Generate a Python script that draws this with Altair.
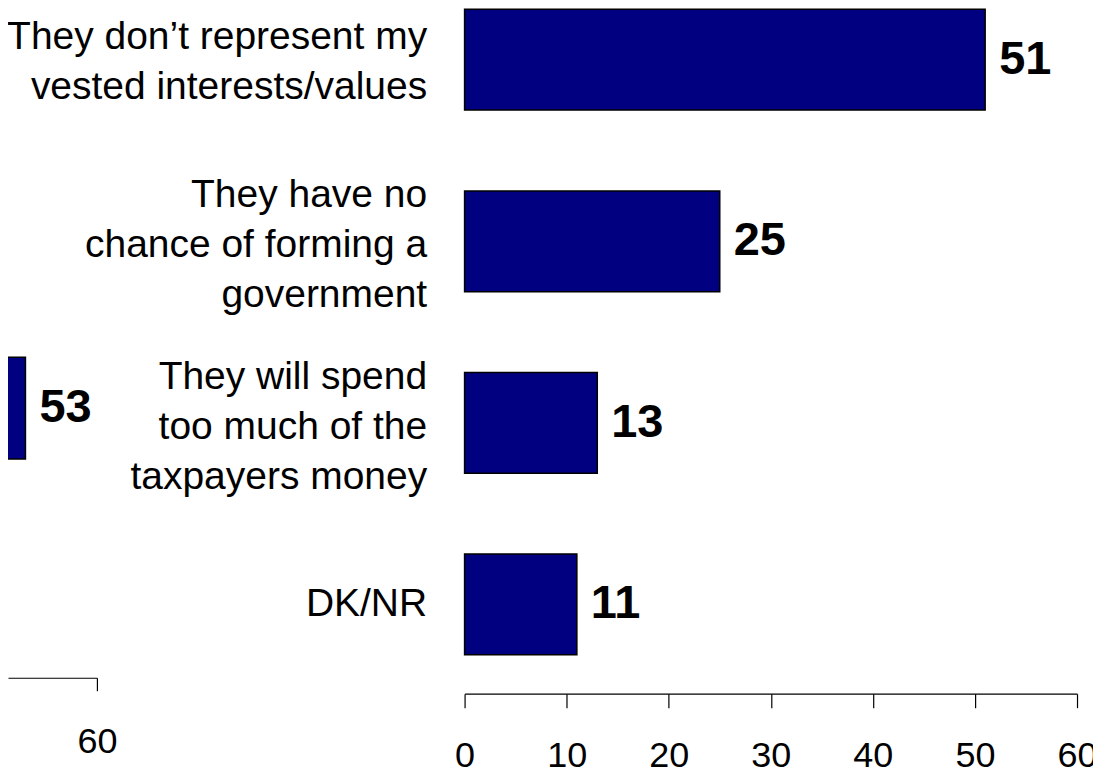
import altair as alt
import pandas as pd

# ---- data ----
right_labels = [
    "They don’t represent my|vested interests/values",
    "They have no|chance of forming a|government",
    "They will spend|too much of the|taxpayers money",
    "DK/NR",
]
right_values = [51, 25, 13, 11]
left_labels = ["(left panel)"]
left_values = [53]
tick_values = [0, 10, 20, 30, 40, 50, 60]

NAVY = "#000080"
LABEL_FONT = "Liberation Sans"
NUM_FONT = "Liberation Sans"
LINE_H = 50

right_df = pd.DataFrame({"cat": right_labels, "val": right_values})
left_df = pd.DataFrame({"cat": left_labels, "val": left_values})

# ---- right panel ----
r_x = alt.X(
    "val:Q",
    scale=alt.Scale(domain=[0, 60], nice=False, zero=True),
    axis=alt.Axis(
        values=tick_values, title=None, grid=False, offset=39,
        tickSize=14, tickColor="black", domainColor="black",
        tickWidth=1.2, domainWidth=1.2,
        labelPadding=31, labelFontSize=36, labelFont=NUM_FONT,
        labelColor="black", labelFlush=False,
    ),
)
n_lines = "length(split(datum.value, '|'))"
r_y = alt.Y(
    "cat:N",
    sort=right_labels,
    scale=alt.Scale(paddingInner=0.445, paddingOuter=0),
    axis=alt.Axis(
        title=None, domain=False, ticks=False, labelPadding=38,
        labelFontSize=39, labelFont=LABEL_FONT, labelLineHeight=LINE_H,
        labelExpr="split(datum.label, '|')", labelAlign="right",
        labelBaseline="middle", labelLimit=600, labelColor="black",
        labelOffset={
            "condition": [
                {"test": f"{n_lines} == 3", "value": -LINE_H + 4},
                {"test": f"{n_lines} == 2", "value": -LINE_H / 2 + 2},
            ],
            "value": 0,
        },
    ),
)
r_base = alt.Chart(right_df)
r_bars = r_base.mark_bar(color=NAVY, stroke="black", strokeWidth=1.5).encode(x=r_x, y=r_y)
r_text = r_base.mark_text(
    align="left", baseline="middle", dx=14, fontSize=47,
    fontWeight="bold", font=NUM_FONT, color="black",
).encode(x="val:Q", y=alt.Y("cat:N", sort=right_labels), text="val:Q")
right = (r_bars + r_text).properties(width=613, height=646)

# ---- left panel (mostly outside the frame) ----
l_x = alt.X(
    "val:Q",
    scale=alt.Scale(domain=[60 - 89 / 10.22, 60], nice=False, zero=False),
    axis=alt.Axis(
        values=[60], title=None, grid=False, offset=0,
        tickSize=13, tickColor="black", domainColor="black",
        tickWidth=1.2, domainWidth=1.2,
        labelPadding=34, labelFontSize=36, labelFont=NUM_FONT,
        labelColor="black", labelFlush=False,
    ),
)
l_y = alt.Y(
    "cat:N", axis=None,
    scale=alt.Scale(paddingInner=0.64, paddingOuter=1, align=0.614),
)
l_base = alt.Chart(left_df)
l_bars = l_base.mark_bar(color=NAVY, stroke="black", strokeWidth=1.5, clip=True).encode(
    x=l_x, x2=alt.datum(0), y=l_y
)
l_text = l_base.mark_text(
    align="left", baseline="middle", dx=14, fontSize=47,
    fontWeight="bold", font=NUM_FONT, color="black",
).encode(x="val:Q", y="cat:N", text="val:Q")
left = (l_bars + l_text).properties(width=89, height=669)

chart = (
    alt.hconcat(left, right, spacing=368, bounds="flush")
    .properties(
        padding={"left": -2, "top": 0, "right": -5, "bottom": -5},
        background="white",
    )
    .configure_view(stroke=None)
)

chart.save("out.html", embed_options={"renderer": "svg", "actions": False})
